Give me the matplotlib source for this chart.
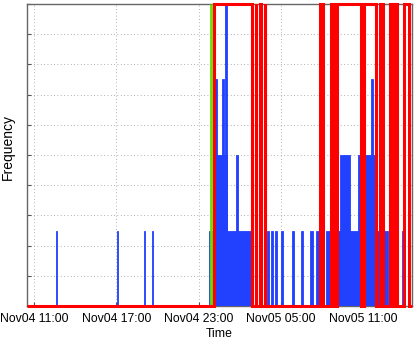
import pandas as pd
import matplotlib
matplotlib.use("Agg")
import matplotlib.pyplot as plt
import matplotlib.dates as mdates

plt.rcParams['font.family'] = ['Liberation Sans', 'DejaVu Sans']

DAY = "2011-11-04"
NEXT = "2011-11-05"

# blue counts: (start, end, height)
blue_start = [f"{DAY} 12:36", f"{DAY} 17:03", f"{DAY} 19:01", f"{DAY} 19:36",
              f"{DAY} 23:47", f"{NEXT} 00:01", f"{NEXT} 00:34", f"{NEXT} 00:07",
              f"{NEXT} 00:41", f"{NEXT} 00:57", f"{NEXT} 01:43",
              f"{NEXT} 04:00", f"{NEXT} 04:16", f"{NEXT} 04:34", f"{NEXT} 04:59",
              f"{NEXT} 05:47", f"{NEXT} 06:26", f"{NEXT} 07:07", f"{NEXT} 07:32",
              f"{NEXT} 08:16", f"{NEXT} 09:20", f"{NEXT} 10:35", f"{NEXT} 11:34",
              f"{NEXT} 13:48"]
blue_end = [f"{DAY} 12:42", f"{DAY} 17:09", f"{DAY} 19:07", f"{DAY} 19:42",
            f"{NEXT} 02:53", f"{NEXT} 00:32", f"{NEXT} 01:05", f"{NEXT} 00:19",
            f"{NEXT} 00:51", f"{NEXT} 01:05", f"{NEXT} 01:53",
            f"{NEXT} 04:07", f"{NEXT} 04:24", f"{NEXT} 04:42", f"{NEXT} 05:09",
            f"{NEXT} 05:57", f"{NEXT} 06:36", f"{NEXT} 07:20", f"{NEXT} 07:46",
            f"{NEXT} 12:49", f"{NEXT} 10:00", f"{NEXT} 12:00", f"{NEXT} 11:44",
            f"{NEXT} 13:54"]
blue_height = [2.5, 2.5, 2.5, 2.5,
               2.5, 5, 5, 7.5,
               7.5, 10, 5,
               2.5, 2.5, 2.5, 2.5,
               2.5, 2.5, 2.5, 2.5,
               2.5, 5, 5, 7.5,
               2.5]

# red on/off state: high between on and off
red_on = [f"{NEXT} 00:05", f"{NEXT} 03:10", f"{NEXT} 03:30", f"{NEXT} 03:50",
          f"{NEXT} 07:51", f"{NEXT} 08:37", f"{NEXT} 09:07", f"{NEXT} 11:03",
          f"{NEXT} 12:11", f"{NEXT} 12:55", f"{NEXT} 13:25", f"{NEXT} 13:56"]
red_off = [f"{NEXT} 02:53", f"{NEXT} 03:11", f"{NEXT} 03:31", f"{NEXT} 03:51",
           f"{NEXT} 08:04", f"{NEXT} 08:50", f"{NEXT} 10:50", f"{NEXT} 11:56",
           f"{NEXT} 12:24", f"{NEXT} 13:10", f"{NEXT} 13:27", f"{NEXT} 14:22"]
red_level = 10

green_time = f"{DAY} 23:55"

x_start = f"{DAY} 10:29"
x_end = f"{NEXT} 14:33"
tick_times = [f"{DAY} 11:00", f"{DAY} 17:00", f"{DAY} 23:00",
              f"{NEXT} 05:00", f"{NEXT} 11:00"]

fig = plt.figure(figsize=(4.15, 3.45), dpi=100)
ax = fig.add_axes([27 / 415, 39 / 345, 385 / 415, 302 / 345])

bs = mdates.date2num(pd.to_datetime(blue_start))
be = mdates.date2num(pd.to_datetime(blue_end))
ax.bar(bs, blue_height, width=be - bs, align='edge', color='#2241ff',
       edgecolor='#2241ff', linewidth=0.6, zorder=2)

gx = mdates.date2num(pd.Timestamp(green_time))
ax.plot([gx, gx], [0, 10], color='#66e000', lw=2, zorder=3, clip_on=False,
        solid_capstyle='butt')

# build square wave for red
rx = [mdates.date2num(pd.Timestamp(x_start))]
ry = [0]
for on, off in zip(red_on, red_off):
    rx += [mdates.date2num(pd.Timestamp(on)), mdates.date2num(pd.Timestamp(off))]
    ry += [red_level, 0]
rx.append(mdates.date2num(pd.Timestamp(x_end)))
ry.append(0)
ax.plot(rx, ry, drawstyle='steps-post', color='#ff0000', lw=2.2, zorder=4,
        solid_joinstyle='miter', solid_capstyle='butt', clip_on=False)

ax.set_xlim(mdates.date2num(pd.Timestamp(x_start)), mdates.date2num(pd.Timestamp(x_end)))
ax.set_ylim(0, 10)
ax.set_xticks(mdates.date2num(pd.to_datetime(tick_times)))
ax.xaxis.set_major_formatter(mdates.DateFormatter('%b%d %H:%M'))
ax.set_yticks(range(0, 11))
ax.set_yticklabels([])
ax.tick_params(direction='in', length=3, color='#555555', labelsize=8.8, pad=5)
ax.grid(True, linestyle=(0, (1, 3)), color='#999999', linewidth=0.6)
ax.set_axisbelow(True)
for s in ax.spines.values():
    s.set_color('#666666')
    s.set_linewidth(1)
    s.set_zorder(1)

ax.set_xlabel('Time', fontsize=8.8, labelpad=2)
ax.set_ylabel('Frequency', fontsize=10)
ax.yaxis.set_label_coords(-0.031, 0.527)

fig.savefig('out.png', dpi=100)
